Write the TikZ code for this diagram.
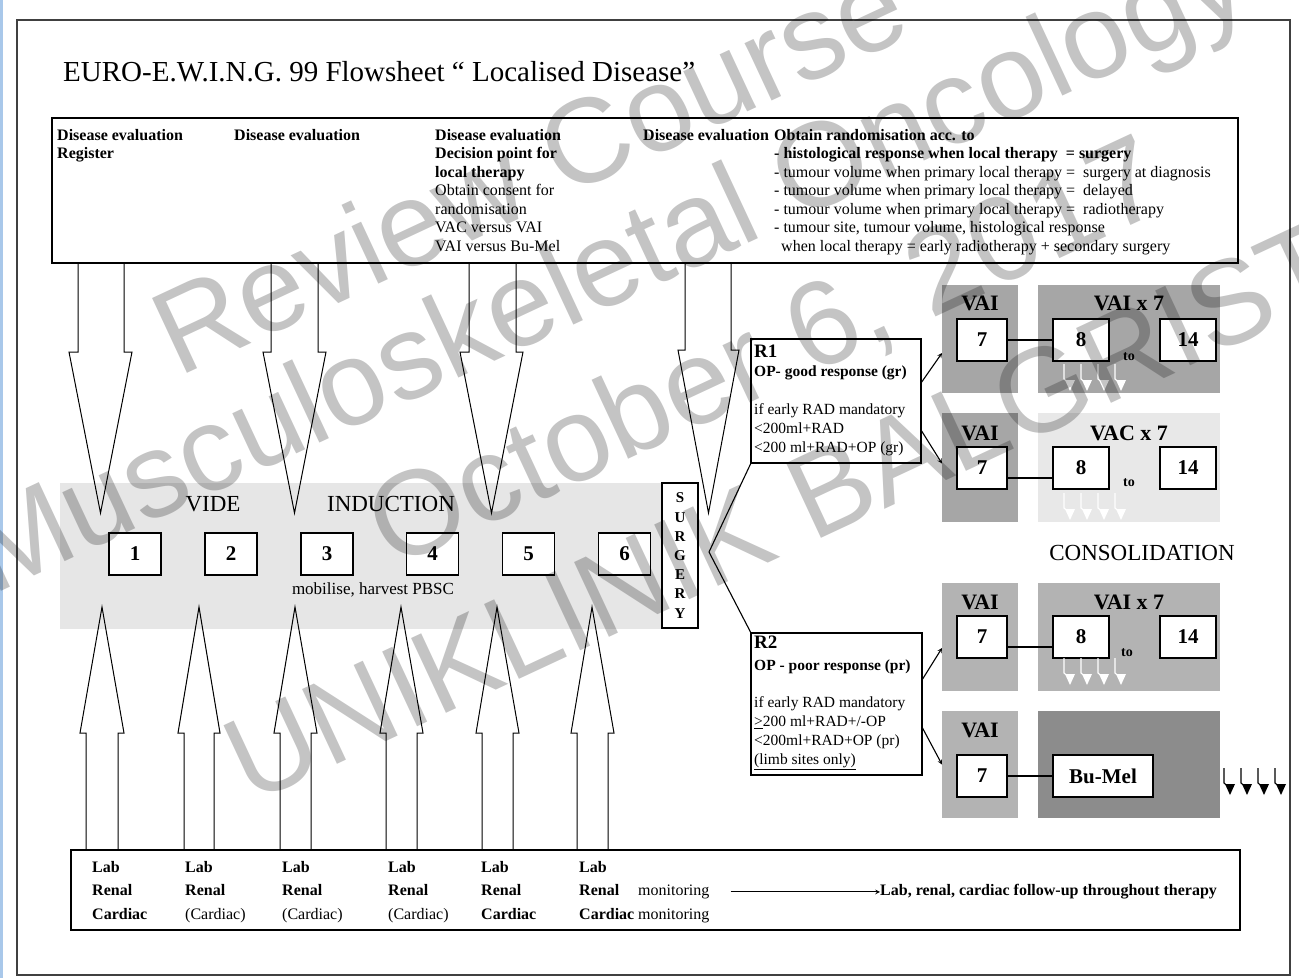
\documentclass[tikz,border=0pt]{standalone}
\usepackage{fontspec}
\setmainfont{Liberation Serif}
\newfontfamily\wmfont{Liberation Sans}

% row of four small hooked arrows: x start, y top, colour
\newcommand{\glyphrow}[3]{%
  \foreach \k in {0,...,3} {%
    \draw[#3, line width=1.1pt] ({#1+17*\k}, #2) -- ({#1+17*\k}, {#2+15}) -- ({#1+17*\k+6}, {#2+20});
    \fill[#3] ({#1+17*\k+1}, {#2+16}) -- ({#1+17*\k+11}, {#2+16}) -- ({#1+17*\k+6}, {#2+27}) -- cycle;
  }}

\begin{document}
\begin{tikzpicture}[
    x=1pt, y=-1pt,
    text=black,
    >={stealth},
    frame/.style={draw=black!75, line width=1.4pt},
    box/.style={draw=black, line width=1.1pt, inner sep=0pt, outer sep=0pt},
    numbox/.style={box, fill=white, minimum width=52pt, minimum height=42pt, font=\fontsize{21}{21}\selectfont\bfseries},
    cycbox/.style={box, fill=white, minimum width=56pt, minimum height=42pt, font=\fontsize{21}{21}\selectfont\bfseries},
    panel/.style={inner sep=0pt, outer sep=0pt, minimum width=76pt, minimum height=108pt},
    widepanel/.style={panel, minimum width=182pt},
    head/.style={font=\fontsize{22}{22}\selectfont\bfseries},
    tolabel/.style={font=\fontsize{14}{14}\selectfont\bfseries},
    colnote/.style={anchor=north west, align=left, inner sep=0pt, font=\fontsize{16}{18.5}\selectfont},
    labcol/.style={anchor=north west, align=left, inner sep=0pt, font=\fontsize{16}{23.5}\selectfont},
    phase/.style={font=\fontsize{23}{23}\selectfont},
    blockarrow/.style={draw=black, line width=1pt, line join=miter},
    conn/.style={->, line width=1.1pt},
    wm/.style={anchor=base west, rotate=25, inner sep=0pt, opacity=0.23, font=\wmfont\fontsize{120}{120}\selectfont}
]

% Define custom colors to match the image closely
\definecolor{edgeblue}{HTML}{A9C8EA}
\definecolor{bandgray}{HTML}{E6E6E6}
\definecolor{darkpanel}{HTML}{A6A6A6}
\definecolor{midpanel}{HTML}{B3B3B3}
\definecolor{lightpanel}{HTML}{E8E8E8}
\definecolor{deeppanel}{HTML}{8C8C8C}

% ==================== FRAME ====================
\useasboundingbox (0,0) rectangle (1299,978);
\fill[white] (0,0) rectangle (1299,978);
\fill[edgeblue] (0,0) rectangle (3,978);
\draw[frame] (17,20) rectangle (1290,975);

% Title
\node[anchor=base west, inner sep=0pt, font=\fontsize{29}{29}\selectfont] (title) at (63,81) {EURO-E.W.I.N.G. 99 Flowsheet “ Localised Disease”};

% ==================== EVALUATION BOX ====================
\node[box, minimum width=1186pt, minimum height=145pt] (topbox) at (645,190.5) {};
\node[colnote] (ev1) at (57,129) {\textbf{Disease evaluation}\\\textbf{Register}};
\node[colnote] (ev2) at (234,129) {\textbf{Disease evaluation}};
\node[colnote] (ev3) at (435,129) {\textbf{Disease evaluation}\\\textbf{Decision point for}\\\textbf{local therapy}\\Obtain consent for\\randomisation\\VAC versus VAI\\VAI versus Bu-Mel};
\node[colnote] (ev4) at (643,129) {\textbf{Disease evaluation}};
\node[colnote] (rand) at (774,129) {\textbf{Obtain randomisation acc. to}\\
    \textbf{- histological response when local therapy \ = surgery}\\
    - tumour volume when primary local therapy = \ surgery at diagnosis\\
    - tumour volume when primary local therapy = \ delayed\\
    - tumour volume when primary local therapy = \ radiotherapy\\
    - tumour site, tumour volume, histological response\\
    \hspace*{7pt}when local therapy = early radiotherapy + secondary surgery};

% ==================== INDUCTION ====================
\node[fill=bandgray, inner sep=0pt, minimum width=603pt, minimum height=146pt] (band) at (361.5,556) {};
\node[phase] (vide) at (213,504) {VIDE};
\node[phase] (induction) at (391,504) {INDUCTION};
\node[font=\fontsize{17}{17}\selectfont] (pbsc) at (373,590) {mobilise, harvest PBSC};

% Arrows from evaluation box
\draw[blockarrow] (78,263) -- (78,352) -- (69,352) -- (100.5,513) -- (132,352) -- (124,352) -- (124,263);
\draw[blockarrow] (271,263) -- (271,352) -- (263,352) -- (294.5,513) -- (326,352) -- (318,352) -- (318,263);
\draw[blockarrow] (469,263) -- (469,352) -- (460,352) -- (491.5,513) -- (523,352) -- (516,352) -- (516,263);
\draw[blockarrow] (685,263) -- (685,350) -- (678,350) -- (708.5,513) -- (739,350) -- (731,350) -- (731,263);

% Arrows from monitoring box
\draw[blockarrow] (86,850) -- (86,733) -- (80,733) -- (102,607) -- (124,733) -- (118,733) -- (118,850);
\draw[blockarrow] (184,850) -- (184,733) -- (178,733) -- (199,607) -- (220,733) -- (214,733) -- (214,850);
\draw[blockarrow] (280,850) -- (280,733) -- (274,733) -- (295,607) -- (317,733) -- (311,733) -- (311,850);
\draw[blockarrow] (386,850) -- (386,733) -- (380,733) -- (401,607) -- (423,733) -- (417,733) -- (417,850);
\draw[blockarrow] (482,850) -- (482,733) -- (476,733) -- (497,607) -- (519,733) -- (513,733) -- (513,850);
\draw[blockarrow] (577,850) -- (577,733) -- (571,733) -- (592,607) -- (614,733) -- (608,733) -- (608,850);

% Cycle boxes
\node[numbox] (c1) at (135,554) {1};
\node[numbox] (c2) at (231,554) {2};
\node[numbox] (c3) at (327,554) {3};
\node[numbox] (c4) at (432.5,554) {4};
\node[numbox] (c5) at (528.5,554) {5};
\node[numbox] (c6) at (624.5,554) {6};

% Surgery
\node[box, fill=white, minimum width=36pt, minimum height=145pt] (surg) at (680,555.5) {};
\node[align=center, inner sep=0pt, font=\fontsize{15}{19.2}\selectfont\bfseries] (surgtxt) at (surg.center) {S\\U\\R\\G\\E\\R\\Y};

% ==================== RANDOMISATION ====================
\node[box, minimum width=170pt, minimum height=124pt] (r1) at (836,401) {};
\node[colnote, font=\fontsize{15.5}{19}\selectfont] (r1txt) at (754,345) {{\fontsize{19}{19}\selectfont\textbf{R1}}\\
    \textbf{OP- good response (gr)}\\[19pt]
    if early RAD mandatory\\
    <200ml+RAD\\
    <200 ml+RAD+OP (gr)};

\node[box, minimum width=171pt, minimum height=142pt] (r2) at (836.5,704) {};
\node[colnote, font=\fontsize{15.5}{19}\selectfont] (r2txt) at (754,636) {{\fontsize{19}{19}\selectfont\textbf{R2}}\\[3pt]
    \textbf{OP - poor response (pr)}\\[18pt]
    if early RAD mandatory\\
    \underline{>}200 ml+RAD+/-OP\\
    <200ml+RAD+OP (pr)\\
    \underline{(limb sites only)}};

\coordinate (surgtip) at (709,552);
\draw[box] (r1.south west) -- (surgtip) -- (r2.north west);

% ==================== CONSOLIDATION ====================
% R1 / VAI x 7
\node[panel, fill=darkpanel] (p1a) at (980,339) {};
\node[widepanel, fill=darkpanel] (p1b) at (1129,339) {};
\node[head] (h1a) at (980,303) {VAI};
\node[head] (h1b) at (1129,303) {VAI x 7};
\node[numbox, minimum width=50pt] (c7a) at (982,340) {7};
\node[cycbox] (c8a) at (1081,340) {8};
\node[cycbox] (c14a) at (1188,340) {14};
\node[tolabel] (to1) at (1129,357) {to};
\draw[box] (c7a.east) -- (c8a.west);
\glyphrow{1064}{364}{white}

% R1 / VAC x 7
\node[panel, fill=darkpanel, minimum height=109pt] (p2a) at (980,467.5) {};
\node[widepanel, fill=lightpanel, minimum height=109pt] (p2b) at (1129,467.5) {};
\node[head] (h2a) at (980,433) {VAI};
\node[head] (h2b) at (1129,433) {VAC x 7};
\node[numbox, minimum width=50pt] (c7b) at (982,468) {7};
\node[cycbox] (c8b) at (1081,468) {8};
\node[cycbox] (c14b) at (1188,468) {14};
\node[tolabel] (to2) at (1129,483) {to};
\draw[box] ([yshift=-10pt]c7b.east) -- ([yshift=-10pt]c8b.west);
\glyphrow{1064}{493}{white}

\node[phase] (consol) at (1142,553) {CONSOLIDATION};

% R2 / VAI x 7
\node[panel, fill=midpanel] (p3a) at (980,637) {};
\node[widepanel, fill=midpanel] (p3b) at (1129,637) {};
\node[head] (h3a) at (980,602) {VAI};
\node[head] (h3b) at (1129,602) {VAI x 7};
\node[numbox, minimum width=50pt] (c7c) at (982,637) {7};
\node[cycbox] (c8c) at (1081,637) {8};
\node[cycbox] (c14c) at (1188,637) {14};
\node[tolabel] (to3) at (1127,653) {to};
\draw[box] ([yshift=-10pt]c7c.east) -- ([yshift=-10pt]c8c.west);
\glyphrow{1064}{658}{white}

% R2 / Bu-Mel
\node[panel, fill=midpanel, minimum height=107pt] (p4a) at (980,764.5) {};
\node[widepanel, fill=deeppanel, minimum height=107pt] (p4b) at (1129,764.5) {};
\node[head] (h4a) at (980,730) {VAI};
\node[numbox, minimum width=50pt] (c7d) at (982,776) {7};
\node[cycbox, minimum width=100pt] (bumel) at (1103,776) {Bu-Mel};
\draw[box] (c7d.east) -- (bumel.west);
\glyphrow{1224}{768}{black}

% Randomisation arrows
\draw[conn] ([yshift=18pt]r1.east) -- ([yshift=-14pt]p1a.west);
\draw[conn] ([yshift=-29pt]r1.east) -- ([yshift=4pt]p2a.west);
\draw[conn] ([yshift=24pt]r2.east) -- ([yshift=-11pt]p3a.west);
\draw[conn] ([yshift=-23pt]r2.east) -- (p4a.west);

% ==================== MONITORING BOX ====================
\node[box, minimum width=1169pt, minimum height=80pt] (labbox) at (655.5,890) {};
\node[labcol] (lab1) at (92,861) {\textbf{Lab}\\\textbf{Renal}\\\textbf{Cardiac}};
\node[labcol] (lab2) at (185,861) {\textbf{Lab}\\\textbf{Renal}\\(Cardiac)};
\node[labcol] (lab3) at (282,861) {\textbf{Lab}\\\textbf{Renal}\\(Cardiac)};
\node[labcol] (lab4) at (388,861) {\textbf{Lab}\\\textbf{Renal}\\(Cardiac)};
\node[labcol] (lab5) at (481,861) {\textbf{Lab}\\\textbf{Renal}\\\textbf{Cardiac}};
\node[labcol] (lab6) at (579,861) {\textbf{Lab}\\\textbf{Renal}\\\textbf{Cardiac}};
\node[anchor=base west, inner sep=0pt, font=\fontsize{16}{16}\selectfont] (mon1) at (638,895.5) {monitoring};
\node[anchor=base west, inner sep=0pt, font=\fontsize{16}{16}\selectfont] (mon2) at (638,919) {monitoring};
\node[anchor=base west, inner sep=0pt, font=\fontsize{16}{16}\selectfont\bfseries] (follow) at (880,895.5) {Lab, renal, cardiac follow-up throughout therapy};
\draw[conn] ([xshift=21pt]mon1.east) -- (follow.west |- mon1.east);

% ==================== WATERMARK ====================
\node[wm] (wm1) at (178,378) {Review Course};
\node[wm] (wm2) at (-8,596) {Musculoskeletal Oncology};
\node[wm] (wm3) at (392,570) {October 6, 2017};
\node[wm] (wm4) at (250,805) {UNIKLINIK BALGRIST};

\end{tikzpicture}
\end{document}
